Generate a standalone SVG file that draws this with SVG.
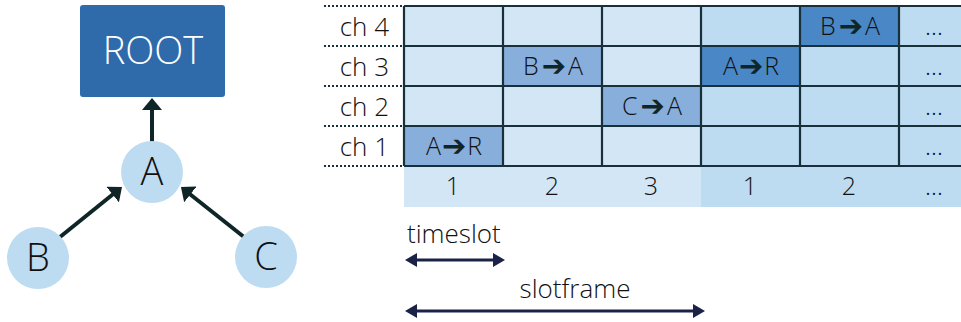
<svg xmlns="http://www.w3.org/2000/svg" width="961" height="322" viewBox="0 0 961 322">
<style>
text{font-family:"Open Sans","Liberation Sans",sans-serif;font-weight:300;fill:#111;}
.node{fill:#bddbf1;}
.lbl{font-size:26px;}
.big{font-size:38px;text-anchor:middle;}
.c{text-anchor:middle;font-size:25px;}
.ar{font-family:"DejaVu Sans",sans-serif;font-size:29px;font-weight:400;fill:#0f2527;}
.f1{fill:#d3e6f5;}
.f2{fill:#bddbf1;}
.h1{fill:#88aedb;}
.h2{fill:#4a87c6;}
.grid{stroke:#17303a;stroke-width:2.2;fill:none;}
.dot{stroke:#17303a;stroke-width:2;stroke-dasharray:2 2;fill:none;}
.tree{stroke:#0f2527;stroke-width:4;fill:none;}
.dim{stroke:#1a2347;stroke-width:3;fill:none;}
</style>
<defs>
<marker id="ah" markerUnits="userSpaceOnUse" viewBox="0 0 12 20" refX="2" refY="10" markerWidth="12" markerHeight="20" orient="auto"><path d="M0,0 L12,10 L0,20 z" fill="#0f2527"/></marker>
<marker id="dh" markerUnits="userSpaceOnUse" viewBox="0 0 12 14" refX="2" refY="7" markerWidth="12" markerHeight="14" orient="auto-start-reverse"><path d="M0,0 L12,7 L0,14 z" fill="#1a2347"/></marker>
</defs>

<g id="edges">
<line class="tree" x1="152" y1="142" x2="152" y2="108" marker-end="url(#ah)"/>
<line class="tree" x1="60" y1="237" x2="114.2" y2="193.3" marker-end="url(#ah)"/>
<line class="tree" x1="244" y1="237" x2="188.8" y2="193.2" marker-end="url(#ah)"/>
</g>

<g id="root">
<rect x="80" y="5" width="145" height="92" rx="3" fill="#2f6aaa"/>
<text x="153" y="64" class="big" style="fill:#fff;font-size:38px">ROOT</text>
</g>
<g id="nodeA"><circle class="node" cx="152" cy="172" r="31"/><text x="152" y="185" class="big">A</text></g>
<g id="nodeB"><circle class="node" cx="38" cy="258" r="31"/><text x="38" y="271" class="big">B</text></g>
<g id="nodeC"><circle class="node" cx="266" cy="257" r="31"/><text x="266" y="270" class="big">C</text></g>

<g id="schedule">
<rect class="f1" x="404" y="6" width="297" height="201"/>
<rect class="f2" x="701" y="6" width="260" height="201"/>
<rect class="h1" x="404" y="126" width="99" height="40"/>
<rect class="h1" x="503" y="46" width="99" height="40"/>
<rect class="h1" x="602" y="86" width="99" height="40"/>
<rect class="h2" x="701" y="46" width="99" height="40"/>
<rect class="h2" x="800" y="6" width="99" height="40"/>
<path class="grid" d="M404,6H961M404,46H961M404,86H961M404,126H961M404,166H961M404,6V166M503,6V166M602,6V166M701,6V166M800,6V166M899,6V166"/>
<path class="dot" d="M324,6H404M324,46H404M324,86H404M324,126H404M324,166H404"/>
<text x="389" y="36" class="lbl" text-anchor="end">ch 4</text>
<text x="389" y="76" class="lbl" text-anchor="end">ch 3</text>
<text x="389" y="116" class="lbl" text-anchor="end">ch 2</text>
<text x="389" y="156" class="lbl" text-anchor="end">ch 1</text>
<text x="454" y="155" class="c">A<tspan class="ar" dx="1" dy="1">➔</tspan><tspan dx="1" dy="-1">R</tspan></text>
<text x="553" y="75" class="c">B<tspan class="ar" dx="3" dy="1">➔</tspan><tspan dx="2" dy="-1">A</tspan></text>
<text x="652" y="115" class="c">C<tspan class="ar" dx="3" dy="1">➔</tspan><tspan dx="2" dy="-1">A</tspan></text>
<text x="751" y="75" class="c">A<tspan class="ar" dx="1" dy="1">➔</tspan><tspan dx="1" dy="-1">R</tspan></text>
<text x="850" y="35" class="c">B<tspan class="ar" dx="3" dy="1">➔</tspan><tspan dx="2" dy="-1">A</tspan></text>
<text x="934" y="35" class="c">…</text>
<text x="934" y="75" class="c">…</text>
<text x="934" y="115" class="c">…</text>
<text x="934" y="155" class="c">…</text>
<text x="453" y="195" class="c">1</text>
<text x="552" y="195" class="c">2</text>
<text x="651" y="195" class="c">3</text>
<text x="750" y="195" class="c">1</text>
<text x="849" y="195" class="c">2</text>
<text x="934" y="195" class="c">…</text>
</g>

<g id="timeslot">
<line class="dim" x1="415" y1="260" x2="495" y2="260" marker-start="url(#dh)" marker-end="url(#dh)"/>
<text x="407" y="243" class="lbl">timeslot</text>
</g>
<g id="slotframe">
<line class="dim" x1="415" y1="311" x2="695" y2="311" marker-start="url(#dh)" marker-end="url(#dh)"/>
<text x="575" y="298" class="lbl" text-anchor="middle">slotframe</text>
</g>
</svg>
